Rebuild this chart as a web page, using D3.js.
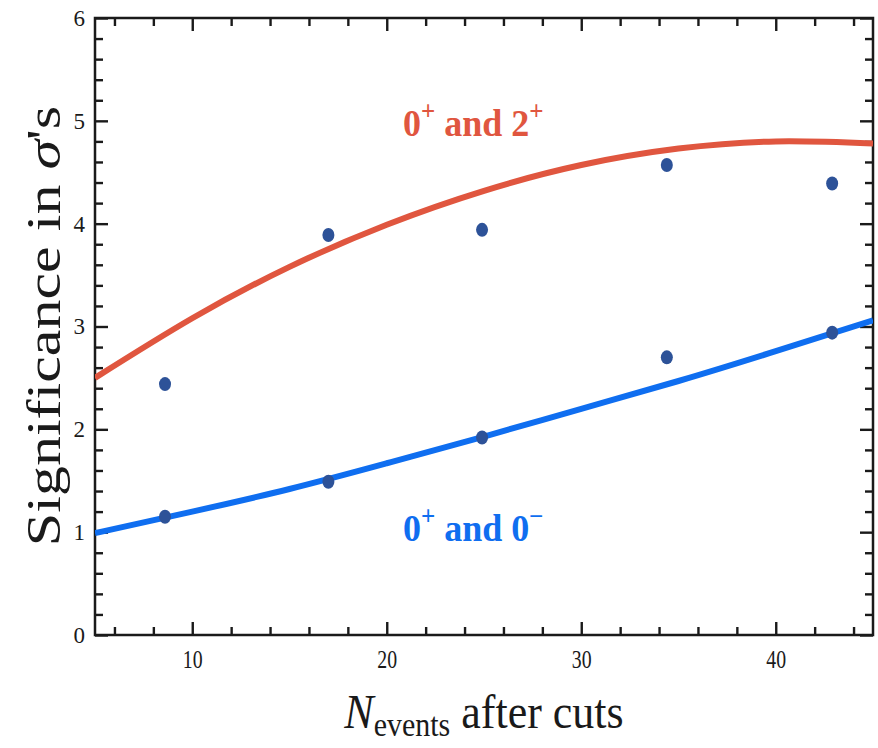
<!DOCTYPE html>
<html>
<head>
<meta charset="utf-8">
<script src="https://cdn.jsdelivr.net/npm/d3@7"></script>
<style>
  html, body { margin: 0; padding: 0; background: #fff; }
  svg { display: block; }
  .tick text { font-family: "Liberation Serif", "DejaVu Serif", serif; }
</style>
</head>
<body>
<svg id="chart" width="878" height="748"></svg>
<script>
// Significance vs. number of events after cuts
const xTicks = [10, 20, 30, 40];
const yTicks = [0, 1, 2, 3, 4, 5, 6];

// Simulated significances (points)
const nEvents = [8.6, 17.0, 24.9, 34.4, 42.9];
const sig02 = [2.44, 3.89, 3.94, 4.57, 4.39];   // 0+ vs 2+
const sig00 = [1.15, 1.49, 1.92, 2.70, 2.94];   // 0+ vs 0-

// Fitted curves (sampled)
const fitX = [5, 10, 15, 20, 25, 30, 35, 40, 45];
const fit02 = [2.50, 3.08, 3.58, 3.99, 4.32, 4.57, 4.73, 4.80, 4.78];
const fit00 = [0.99, 1.20, 1.42, 1.67, 1.93, 2.20, 2.47, 2.76, 3.06];

const colRed = "#e0563f";
const colBlue = "#0f6ef0";
const colDot = "#2d5298";
const ink = "#1a1a1a";

const svg = d3.select("#chart");
const L = 95, R = 873, T = 18, B = 635;

const x = d3.scaleLinear().domain([5, 45]).range([L, R]);
const y = d3.scaleLinear().domain([0, 6]).range([B, T]);

const minorX = d3.range(6, 45, 2).filter(v => v % 10 !== 0);
const minorY = d3.range(0, 6.001, 0.2).map(v => +v.toFixed(1)).filter(v => Math.abs(v - Math.round(v)) > 1e-6);

function styleAxis(g) {
  g.select(".domain").remove();
  g.selectAll(".tick line").attr("stroke", ink).attr("stroke-width", 2.4);
}

// Bottom axis (major with labels, minor without)
svg.append("g").attr("transform", `translate(0,${B})`)
  .call(d3.axisBottom(x).tickValues(xTicks).tickSize(-13).tickPadding(0).tickFormat(d3.format("d")))
  .call(styleAxis)
  .call(g => g.selectAll("text").attr("font-size", 22).attr("fill", ink)
    .attr("y", 0).attr("dy", 0)
    .attr("transform", "translate(0,33) scale(0.9,1.1)"));
svg.append("g").attr("transform", `translate(0,${B})`)
  .call(d3.axisBottom(x).tickValues(minorX).tickSize(-8).tickFormat(""))
  .call(styleAxis);

// Top axis
svg.append("g").attr("transform", `translate(0,${T})`)
  .call(d3.axisTop(x).tickValues(xTicks).tickSize(-13).tickFormat(""))
  .call(styleAxis);
svg.append("g").attr("transform", `translate(0,${T})`)
  .call(d3.axisTop(x).tickValues(minorX).tickSize(-8).tickFormat(""))
  .call(styleAxis);

// Left axis
svg.append("g").attr("transform", `translate(${L},0)`)
  .call(d3.axisLeft(y).tickValues(yTicks).tickSize(-13).tickPadding(10).tickFormat(d3.format("d")))
  .call(styleAxis)
  .call(g => g.selectAll("text").attr("font-size", 23).attr("fill", ink));
svg.append("g").attr("transform", `translate(${L},0)`)
  .call(d3.axisLeft(y).tickValues(minorY).tickSize(-8).tickFormat(""))
  .call(styleAxis);

// Right axis
svg.append("g").attr("transform", `translate(${R},0)`)
  .call(d3.axisRight(y).tickValues(yTicks).tickSize(-13).tickFormat(""))
  .call(styleAxis);
svg.append("g").attr("transform", `translate(${R},0)`)
  .call(d3.axisRight(y).tickValues(minorY).tickSize(-8).tickFormat(""))
  .call(styleAxis);

// Frame
svg.append("rect")
  .attr("x", L).attr("y", T).attr("width", R - L).attr("height", B - T)
  .attr("fill", "none").attr("stroke", ink).attr("stroke-width", 2.5);

// Clip curves to the frame
svg.append("clipPath").attr("id", "plotClip")
  .append("rect").attr("x", L).attr("y", T).attr("width", R - L).attr("height", B - T);

const line = d3.line().x(d => x(d[0])).y(d => y(d[1])).curve(d3.curveNatural);

const plot = svg.append("g").attr("clip-path", "url(#plotClip)");
plot.append("path").datum(fitX.map((v, i) => [v, fit02[i]]))
  .attr("d", line).attr("fill", "none").attr("stroke", colRed).attr("stroke-width", 6);
plot.append("path").datum(fitX.map((v, i) => [v, fit00[i]]))
  .attr("d", line).attr("fill", "none").attr("stroke", colBlue).attr("stroke-width", 6);

// Points
const pts = nEvents.map((v, i) => [v, sig02[i]]).concat(nEvents.map((v, i) => [v, sig00[i]]));
svg.append("g").selectAll("ellipse").data(pts).join("ellipse")
  .attr("cx", d => x(d[0])).attr("cy", d => y(d[1]))
  .attr("rx", 6).attr("ry", 7)
  .attr("fill", colDot);

// Curve labels
const serif = "Liberation Serif, DejaVu Serif, serif";
function curveLabel(px, py, color, b, supB) {
  const t = svg.append("text")
    .attr("transform", `translate(${px},${py}) scale(1,1.05)`)
    .attr("font-family", serif)
    .attr("font-weight", "bold").attr("font-size", 36).attr("fill", color);
  t.append("tspan").text("0");
  t.append("tspan").attr("font-size", 25).attr("dy", -15).text("+");
  t.append("tspan").attr("dy", 15).text(" and " + b);
  t.append("tspan").attr("font-size", 25).attr("dy", -15).text(supB);
}
curveLabel(403, 136, colRed, "2", "+");
curveLabel(403, 541, colBlue, "0", "\u2212");

// Axis titles
const yt = svg.append("text")
  .attr("transform", `translate(60,326) rotate(-90) scale(1.25,1)`)
  .attr("text-anchor", "middle")
  .attr("font-family", serif).attr("font-size", 48).attr("fill", ink);
yt.append("tspan").text("Significance in ");
yt.append("tspan").attr("font-style", "italic").text("\u03C3");
yt.append("tspan").text("'s");

const xt = svg.append("text")
  .attr("transform", `translate(484,728) scale(1,1.12)`)
  .attr("text-anchor", "middle")
  .attr("font-family", serif).attr("font-size", 44).attr("fill", ink);
xt.append("tspan").attr("font-style", "italic").text("N");
xt.append("tspan").attr("font-size", 30).attr("dy", 7).text("events");
xt.append("tspan").attr("dy", -7).text(" after cuts");
</script>
</body>
</html>
